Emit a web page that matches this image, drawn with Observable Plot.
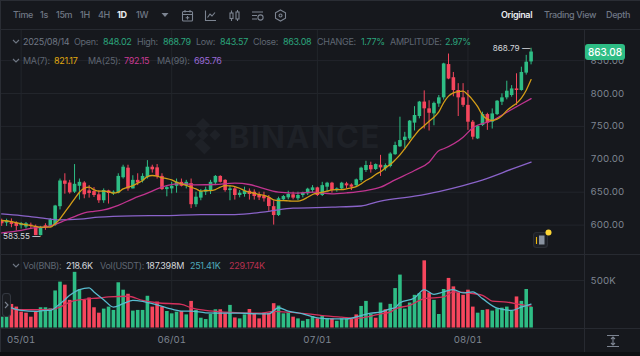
<!DOCTYPE html>
<html>
<head>
<meta charset="utf-8">
<script src="https://cdn.jsdelivr.net/npm/d3@7"></script>
<script src="https://cdn.jsdelivr.net/npm/@observablehq/plot@0.6"></script>
<style>
html,body{margin:0;padding:0;background:#0d0f12;}
#c{position:relative;width:640px;height:356px;overflow:hidden;background:#16181d;font-family:Inter,"Noto Sans",sans-serif;}
.t{position:absolute;white-space:nowrap;font-size:9px;letter-spacing:-0.3px;line-height:12px;transform:translateY(-50%);color:#5f6672;}
.b{font-size:9px;letter-spacing:-0.35px;color:#6f7784;font-weight:500;}
.line{position:absolute;background:#272a31;}
svg.ic{position:absolute;fill:none;stroke:#7c8491;stroke-width:1.1;}
</style>
</head>
<body>
<div id="c"></div>
<script>
const startDay = "2025-04-27";
const open = [
607,603,605,603,599,597,600,598,584,599,
598,600,628,667,664,650,659,664,652,651,
646,637,652,648,648.5,672,686.5,655,668,667,
672,688,687,674,654,655,659,665,660,663,
631,641,650,651.5,664,674,668,652.5,655,645,
646.5,651.5,650,645,644,641.4,628,614.5,638.4,641.4,
646,640,645,647.5,652.5,656.6,645,657.6,663.7,652.5,
655,662.7,661,660,667.8,683,690.6,684.5,691,685.5,
689,707,719,728.5,731,755,765,787,776.7,769,
784,793.4,844,824,804.6,793.4,782,756.4,731,751.3,
768,756.4,768,786.8,793.4,797,807,804.6,831,848.02];
const close = [
602,606.4,601,598,602,602,598,584,596,596,
608,629,667,662,649,662,665,646,648,645,
637,652.6,648,650,674,688,655,668,664,674,
688,684,674,654,657,659,665,659,665,631,
642.4,651,653.6,665,674,665,652.5,655,645,648.5,
651.5,646.5,643.4,641.4,640,628.2,614.5,640,643.4,646.5,
641,645,648.5,654.6,656.6,645,660,663.7,652.5,655,
663.7,659.6,657.6,668.8,686.5,690.6,684,692,687,690.5,
708,721,728.5,733.6,758,766.6,787,776.7,770,785,
793.4,845,822,804.6,793.4,782,756.4,733.6,750,768,
755,769,788.3,793.4,803.5,807,804.6,832,847.6,863.08];
const high = [
609,609,609.4,605,604,604,603,600,598,602,
610,630,670,678,668,692,670,666,660,657,
652,655,653,652,678,691,691,675,678,678,
698,691,692,678,660,665,670,670,668,670,
650,654,657.6,668,675.4,675,669,660,657.6,652.5,
657.6,655,653.6,650,650,645,637,642.4,645,651.5,
650,650,650,656,660,657.6,665,665,665,656.6,
665,665,662.7,670,688,697,695.6,693,706,693,
710,726,764,741,759,780,788,804,789,787,
797,846,860,832,815,815,804.6,759,751.6,771.6,
770,776.6,789.3,799.5,818.7,812,830,840,858,868.79];
const low = [
598,598,596,591,594,594,594,584,583.55,592,
596,598,623,647,647,648,638,640,641,642,
633,633,632,645,647.5,670,651.5,655,660,664,
670,679,670,652.5,643,647.5,648.5,658,655,625,
627,637,645,646.5,660,664,650,637,638,641.4,
642.4,638,638,637.3,635,621,600,613,636,638.4,
638.4,637,641.4,645,648.5,643.4,643.4,650,648.5,650,
652.5,655,652.5,657.6,665,680,679,683,674,682,
687,706,718,716,728.5,743,761.5,746,743,751,
779,790,821,795,765,779,744,729.5,730,750,
744,746,766.5,781.7,790.4,794.4,782,803.5,828,843.57];
const volume = [
114,114,248,220,167,156,114,167,213,213,
202,390,483,451,291,586,405,291,316,213,
156,199,220,185,476,398,355,178,185,185,
334,220,273,220,174,149,167,174,138,280,
185,103,89,142,192,192,149,238,106,96,
138,195,149,96,156,156,256,231,149,156,
114,96,71,89,121,96,124,96,96,71,
96,96,89,138,227,280,142,103,263,192,
249,415,557,199,263,344,362,707,369,291,
142,405,522,433,369,344,398,220,156,185,
192,178,202,209,220,178,327,280,405,218.6];
const volSide = "uudddddduu"+"uuudduuddd"+"duuuuuduuu"+"udddduuudu".replace(/^.*$/,"udddUuudud".toLowerCase())+"uuuuuddudu"+"uddddddUUU".toLowerCase()+"duuuuduudu"+"uudduuudud"+"uuuuuuuddu"+"uudddddduu"+"duuuuuduuu";

const ma7Idx = [0,2,4,6,8,10,11,12,13,14,15,16,17,18,19,20,21,22,23,24,25,26,27,28,29,30,31,32,33,34,35,36,37,38,39,40,41,42,43,44,45,46,47,48,49,50,51,52,53,54,55,56,57,58,59,60,61,62,63,64,65,66,67,68,69,70,71,72,73,74,75,76,77,78,79,80,81,82,83,84,85,86,87,88,89,90,91,92,93,94,95,96,97,98,99,100,101,102,103,104,105,106,107,108,109];
const ma7Val = [607,605.4,602,599.3,596.8,596.8,602,609.5,619.6,629.7,639.9,650,656,657.6,653.6,651.5,651.5,651,648.5,650,655,657.6,660,663.7,667.8,673.8,675.4,674.4,671.8,670.8,668.8,665.2,662.7,660.2,657.6,655,651.5,652.5,652.5,654,657.6,660,659.6,658.6,656,652.5,650,648.5,646.5,645,642.4,638.4,637.3,637.3,636.8,636.3,636.3,638.4,642.4,646.5,648.5,650,651.5,653.6,654,654,655,656.6,658.6,662.7,667.8,671.5,677,681,687,692,699,706.7,716,726,736,744.8,751,758,764,772,786,796,801,803,803.5,798,790,780,767,761,759,761,766,774,780,785,793,805,821.17];

const ma25Idx = [0,4,7,9,11,13,15,17,19,21,24,27,30,32,34,36,38,40,44,48,51,53,57,61,64,68,71,75,78,81,85,88,90,91,95,97,101,104,107,109];
const ma25Val = [588,592,596,597,601,607,613,618.6,621,623,630,640,648.5,655,660,662.7,662.7,661,661.7,663.7,661.7,657.6,650,648.5,650,647.5,649,652.5,657.6,668.7,683,695.6,713,716,733.6,748,759,771.6,784,792.15];

const ma99Idx = [0,4,8,12,16,20,27,34,41,48,55,60,68,74,78,85,90,95,100,105,109];
const ma99Val = [617,614.5,611,608,609,612,614,614.5,616,616,621,625.7,627.2,629,636.5,644,651,660,671,685,695.76];

const volMaAIdx = [2,4,7,9,10,12,13,14,16,18,19,21,23,25,27,29,31,34,37,39,42,46,49,53,55,57,59,62,65,68,71,74,76,78,80,81,82,85,87,89,91,93,95,97,99,102,105,107,109];
const volMaAVal = [213,185,174,185,185,256,298,344,405,422,380,298,220,256,291,280,256,213,178,178,160,156,156,149,149,213,178,149,106,96,96,131,156,167,202,213,266,316,405,355,380,405,369,380,309,209,185,220,251.41];
const volMaBIdx = [2,5,8,10,12,14,17,20,22,26,29,32,37,39,42,46,49,53,56,59,63,66,70,73,76,78,80,81,84,87,91,93,96,99,101,104,107,109];
const volMaBVal = [202,192,192,195,220,273,302,316,327,334,291,266,249,213,185,167,160,156,174,167,149,131,114,103,124,149,167,202,238,309,327,380,369,344,284,273,245,229.174];

const priceTicks = [600,650,700,750,800,850];
const volTicks = [500];
const dateTicks = ["2025-05-01","2025-06-01","2025-07-01","2025-08-01"].map(d=>new Date(d));

const day0 = new Date(startDay);
const dateOf = i => d3.utcHour.offset(day0, Math.round(i*24));
const candles = open.map((o,i)=>({date:dateOf(i),o,c:close[i],h:high[i],l:low[i],v:volume[i],up:volSide[i]!=="d"}));
const series = (idx,val) => idx.map((k,j)=>({date:dateOf(k),v:val[j]}));

const UP="#2ebd85", DOWN="#f6465d", GRID="#22252b", TICK="#7e8591";
const xDomain=[dateOf(-0.268),dateOf(120.02)];
const c=document.getElementById("c");

const pricePlot=Plot.plot({
  width:640,height:225,marginTop:0,marginBottom:0,marginLeft:0,marginRight:56,
  style:{background:"transparent",position:"absolute",left:"0px",top:"29px"},
  x:{domain:xDomain,axis:null},
  y:{domain:[555.3,897.3],axis:null},
  marks:[
    Plot.gridY(priceTicks,{stroke:GRID,strokeOpacity:1}),
    Plot.ruleX(dateTicks,{stroke:GRID,strokeOpacity:1}),
    Plot.axisY(priceTicks,{anchor:"right",tickSize:0,tickPadding:6,tickFormat:d3.format(".2f"),fontSize:9.6,fill:TICK,label:null,fontFamily:"Inter"}),
    Plot.ruleX(candles,{x:"date",y1:"l",y2:"h",stroke:d=>d.c>=d.o?UP:DOWN,strokeWidth:1}),
    Plot.ruleX(candles,{x:"date",y1:d=>Math.min(d.o,d.c),y2:d=>Math.max(d.o,d.c),stroke:d=>d.c>=d.o?UP:DOWN,strokeWidth:3.6}),
    Plot.line(series(ma99Idx,ma99Val),{x:"date",y:"v",stroke:"#8a63c9",strokeWidth:1.3,curve:"monotone-x"}),
    Plot.line(series(ma25Idx,ma25Val),{x:"date",y:"v",stroke:"#c0348f",strokeWidth:1.3,curve:"monotone-x"}),
    Plot.line(series(ma7Idx,ma7Val),{x:"date",y:"v",stroke:"#d49e17",strokeWidth:1.3,curve:"monotone-x"}),
    Plot.text([candles[109]],{x:"date",y:"h",text:d=>d3.format(".2f")(d.h)+" \u2014",textAnchor:"end",dx:-1,fill:"#d4d7dc",fontSize:8.2,fontFamily:"Inter"}),
    Plot.text([candles[8]],{x:"date",y:"l",text:d=>d3.format(".2f")(d.l)+" \u2014",textAnchor:"end",dx:0,fill:"#d4d7dc",fontSize:8.2,fontFamily:"Inter"})
  ]
});
const volPlot=Plot.plot({
  width:640,height:98,marginTop:0,marginBottom:24.5,marginLeft:0,marginRight:56,
  style:{background:"transparent",position:"absolute",left:"0px",top:"254px"},
  x:{domain:xDomain,axis:null},
  y:{domain:[0,773.7],axis:null},
  marks:[
    Plot.gridY(volTicks,{stroke:GRID,strokeOpacity:1}),
    Plot.ruleX(dateTicks,{stroke:GRID,strokeOpacity:1}),
    Plot.axisY(volTicks,{anchor:"right",tickSize:0,tickPadding:6,tickFormat:d=>d+"K",fontSize:9.6,fill:TICK,label:null,fontFamily:"Inter"}),
    Plot.axisX(dateTicks,{anchor:"bottom",tickSize:0,tickPadding:8,tickFormat:d3.utcFormat("%m/%d"),fontSize:9.6,fill:TICK,label:null,fontFamily:"Inter"}),
    Plot.ruleX(candles,{x:"date",y1:0,y2:"v",stroke:d=>d.up?UP:DOWN,strokeWidth:3.6}),
    Plot.line(series(volMaBIdx,volMaBVal),{x:"date",y:"v",stroke:"#d6315d",strokeWidth:1.3,curve:"monotone-x"}),
    Plot.line(series(volMaAIdx,volMaAVal),{x:"date",y:"v",stroke:"#58bccf",strokeWidth:1.3,curve:"monotone-x"})
  ]
});

function line(l,t,w,h,col){const d=document.createElement("div");d.className="line";d.style.cssText=`left:${l}px;top:${t}px;width:${w}px;height:${h}px;`+(col?`background:${col};`:"");c.appendChild(d);}
function txt(s,x,y,col,cls,extra){const d=document.createElement("div");d.className="t"+(cls?" "+cls:"");d.textContent=s;d.style.left=x+"px";d.style.top=y+"px";if(col)d.style.color=col;if(extra)d.style.cssText+=extra;c.appendChild(d);return d;}
function svg(x,y,w,h,body,extra){const n=document.createElement("div");n.innerHTML=`<svg class="ic" width="${w}" height="${h}" viewBox="0 0 ${w} ${h}" style="left:${x}px;top:${y}px;${extra||""}">${body}</svg>`;c.appendChild(n.firstChild);}

// watermark
svg(182,116,42,42,`<g fill="#1e2127" stroke="none"><rect x="16" y="4" width="10" height="10" transform="rotate(45 21 9)"/><rect x="5" y="15" width="8" height="8" transform="rotate(45 9 19)"/><rect x="29" y="15" width="8" height="8" transform="rotate(45 33 19)"/><rect x="17" y="15" width="8" height="8" transform="rotate(45 21 19)"/><rect x="14" y="26" width="14" height="9" transform="rotate(45 21 30)"/></g>`);
txt("BINANCE",229,137,"#1e2127","","font-size:31px;line-height:36px;font-weight:700;letter-spacing:1.5px;");

c.appendChild(pricePlot);
c.appendChild(volPlot);

// frame
line(0,0,640,1,"#2a2d34");
line(0,0,1,352,"#2a2d34");
line(0,29,640,1);
line(0,254,640,1);
line(0,328,640,1);
line(584,29,1,323);
const foot=document.createElement("div");foot.style.cssText="position:absolute;left:0;top:352px;width:640px;height:4px;background:#0d0f12;";c.appendChild(foot);

// toolbar
[["Time",13],["1s",40],["15m",56],["1H",80],["4H",98],["1W",136]].forEach(([s,x])=>txt(s,x,15,null,"b"));
txt("1D",117,15,"#eaecef","b","font-weight:700;");
svg(160,12,10,6,`<path d="M1.5 1 L5 5 L8.5 1 Z" fill="#7c8491" stroke="none"/>`);
svg(181,9,13,13,`<rect x="1.5" y="2.5" width="10" height="9.5" rx="1"/><path d="M1.5 5.5 H11.5 M4 1 V3.5 M9 1 V3.5 M6.5 7 V10.5 M4.7 8.7 H8.3"/>`);
svg(204,9,13,13,`<path d="M1.5 1.5 V11.5 H12 M3.5 8.5 L6 5 L8 7 L11 3.5"/>`);
svg(228,9,13,13,`<rect x="2" y="4" width="3" height="5.5"/><rect x="8" y="3" width="3" height="7"/><path d="M3.5 1.5 V4 M3.5 9.5 V12 M9.5 1 V3 M9.5 10 V12"/>`);
svg(251,9,13,13,`<path d="M1 3 H12 M1 6.5 H6 M1 10 H6"/><circle cx="9.5" cy="8.5" r="2.6"/>`);
svg(274,9,13,13,`<path d="M6.5 1 L11.5 3.8 V9.2 L6.5 12 L1.5 9.2 V3.8 Z"/><circle cx="6.5" cy="6.5" r="1.5"/>`);
txt("Original",501,15,"#eaecef","b","font-weight:600;");
txt("Trading View",544,15,null,"b");
txt("Depth",606,15,null,"b");

// header rows
const chev=(y)=>svg(12,y-3,8,6,`<path d="M1 1 L4 4 L7 1" stroke="#6f7784"/>`);
chev(41.5);chev(60.5);chev(265.5);
const G="#2ba57c";
[["2025/08/14",23,"#6f7784"],["Open:",74],["848.02",103,G],["High:",137],["868.79",163,G],["Low:",196],["843.57",220,G],["Close:",253],["863.08",283,G],["CHANGE:",317],["1.77%",361,G],["AMPLITUDE:",390],["2.97%",445,G]]
  .forEach(([s,x,col])=>txt(s,x,41.5,col||"#5f6672"));
[["MA(7):",23],["821.17",54,"#e0a90f"],["MA(25):",88],["792.15",124,"#c93a94"],["MA(99):",157],["695.76",194,"#9a6ad6"]]
  .forEach(([s,x,col])=>txt(s,x,60.5,col||"#5f6672"));
[["Vol(BNB):",23],["218.6K",66,"#d4d7dc"],["Vol(USDT):",100],["187.398M",146,"#d4d7dc"],["251.41K",190,"#4fa9bb"],["229.174K",229,"#b8304f"]]
  .forEach(([s,x,col])=>txt(s,x,265.5,col||"#5f6672"));

// price pill
const pill=txt("863.08",585,52,"#fff","","width:40px;height:16px;line-height:16px;text-align:center;background:#2ebd85;border-radius:3px;font-size:10px;letter-spacing:0;font-weight:500;");

// overlay controls
svg(532,231,19,19,`<rect x="1.5" y="1.5" width="14" height="15" rx="3" fill="#1d2026" stroke="#2a2d34"/><rect x="7" y="4.5" width="5.5" height="9" fill="#8a93a0" stroke="none"/><path d="M4.5 6 V13" stroke="#f0b90b"/>`,"");
svg(545,229,7,7,`<circle cx="3.5" cy="3.5" r="3" fill="#fcd535" stroke="none"/>`);
svg(2,293,9,24,`<rect x="0.5" y="0.5" width="8" height="23" rx="3" fill="#1a1c21" stroke="#33373f"/><path d="M3 9 L6 12 L3 15" stroke="#7c8491"/>`);
svg(606,334,14,14,`<path d="M1 1.5 H13 M1 12.5 H13 M7 3 V11 M5 5 L7 3 L9 5 M5 9 L7 11 L9 9"/>`);
</script>
</body>
</html>
